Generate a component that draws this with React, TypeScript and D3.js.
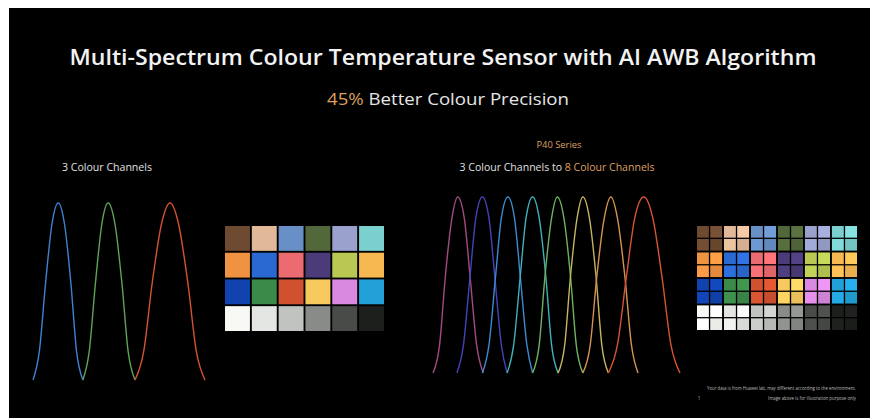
import React from 'react'
import * as d3 from 'd3'

// response levels shared by every sampled curve (start, rising, peak, falling, end)
const response = [0, 0.16, 0.55, 0.88, 1, 0.88, 0.55, 0.16, 0]

// wavelengths (nm) for each channel
const rgbChannels = [
  { name: 'B', color: '#3f82cf', wl: [400, 411, 422, 433, 444, 455, 466, 476, 487] },
  { name: 'G', color: '#5ea356', wl: [487, 498, 509, 520, 531, 543, 555, 566, 578] },
  { name: 'R', color: '#d4532f', wl: [578, 593, 608, 624, 639, 654, 670, 685, 700] },
]

const multiChannels = [
  { name: 'C1', color: '#a34a82', wl: [400, 408, 415, 423, 430, 438, 445, 453, 461] },
  { name: 'C2', color: '#4642b6', wl: [429, 437, 445, 452, 460, 468, 475, 483, 490] },
  { name: 'C3', color: '#3b8ad2', wl: [460, 468, 476, 483, 491, 499, 506, 514, 521] },
  { name: 'C4', color: '#3fb1ba', wl: [490, 498, 506, 513, 521, 529, 537, 544, 552] },
  { name: 'C5', color: '#6db262', wl: [521, 529, 536, 544, 551, 559, 567, 574, 582] },
  { name: 'C6', color: '#c4b463', wl: [552, 560, 567, 575, 582, 590, 598, 605, 613] },
  { name: 'C7', color: '#d59352', wl: [582, 591, 599, 608, 616, 624, 633, 641, 649] },
  { name: 'C8', color: '#d75531', wl: [613, 624, 635, 645, 656, 667, 678, 689, 700] },
]

// colour checker patches, row by row
const checkerRows = [
  ['#6e4a31', '#e1b998', '#6890c6', '#52683a', '#9aa1cc', '#79d0cf'],
  ['#ef9241', '#2b69d2', '#ec6b70', '#4b3b79', '#b8c852', '#f7b852'],
  ['#1142ae', '#3b8a49', '#d1512f', '#f8c95e', '#d989e0', '#22a1d8'],
  ['#f8f8f4', '#e4e6e4', '#c1c3c1', '#898b89', '#494b49', '#1d1f1d'],
]
// per-patch 2x2 sub-sample brightness shifts for the 8-channel checker (tl, tr, bl, br)
const subShift = [0, 0.25, 0.15, -0.15]

const W = 870
const H = 418

const Spectrum = ({ channels, x0, x1, yTop, yBottom }) => {
  const x = d3.scaleLinear().domain([400, 700]).range([x0, x1])
  const y = d3.scaleLinear().domain([0, 1]).range([yBottom, yTop])
  const line = d3
    .line()
    .x((d) => x(d[0]))
    .y((d) => y(d[1]))
    .curve(d3.curveMonotoneX)
  return (
    <g>
      {channels.map((c) => (
        <path
          key={c.name}
          d={line(c.wl.map((w, i) => [w, response[i]]))}
          fill="none"
          stroke={c.color}
          strokeWidth={1.4}
        />
      ))}
    </g>
  )
}

const Checker = ({ x0, x1, y0, y1, split }) => {
  const cols = d3.scaleBand().domain(d3.range(6)).range([x0, x1]).paddingInner(0.07)
  const rows = d3.scaleBand().domain(d3.range(4)).range([y0, y1]).paddingInner(0.07)
  const sub = d3.scaleBand().domain([0, 1]).range([0, cols.bandwidth()]).paddingInner(0.1)
  const subY = d3.scaleBand().domain([0, 1]).range([0, rows.bandwidth()]).paddingInner(0.1)
  return (
    <g>
      {checkerRows.map((row, r) =>
        row.map((col, c) =>
          split ? (
            <g key={`${r}-${c}`} transform={`translate(${cols(c)},${rows(r)})`}>
              {subShift.map((k, i) => (
                <rect
                  key={i}
                  x={sub(i % 2)}
                  y={subY(Math.floor(i / 2))}
                  width={sub.bandwidth()}
                  height={subY.bandwidth()}
                  fill={k >= 0 ? d3.color(col).brighter(k).formatHex() : d3.color(col).darker(-k).formatHex()}
                />
              ))}
            </g>
          ) : (
            <rect
              key={`${r}-${c}`}
              x={cols(c)}
              y={rows(r)}
              width={cols.bandwidth()}
              height={rows.bandwidth()}
              fill={col}
            />
          )
        )
      )}
    </g>
  )
}

export default function App() {
  const font = "'Open Sans', 'Noto Sans', sans-serif"
  const gold = '#dda062'
  return (
    <div>
      <style>{'html,body{margin:0;padding:0;overflow:hidden;background:#fff}'}</style>
      <svg width={W} height={H} style={{ display: 'block' }} fontFamily={font}>
        <rect x={9} y={8} width={W - 9} height={H - 8} fill="#000" />

        <text x={443} y={65} textAnchor="middle" fill="#f2f2f2" fontSize={22} fontWeight={600} textLength={747} lengthAdjust="spacingAndGlyphs">
          Multi-Spectrum Colour Temperature Sensor with AI AWB Algorithm
        </text>
        <text x={448} y={105} textAnchor="middle" fill="#e6e6e6" fontSize={17} textLength={242} lengthAdjust="spacingAndGlyphs">
          <tspan fill={gold}>45%</tspan> Better Colour Precision
        </text>

        <text x={107} y={171} textAnchor="middle" fill="#e0e0e0" fontSize={10} textLength={90} lengthAdjust="spacingAndGlyphs">
          3 Colour Channels
        </text>
        <text x={559} y={148} textAnchor="middle" fill={gold} fontSize={9} textLength={45} lengthAdjust="spacingAndGlyphs">
          P40 Series
        </text>
        <text x={557} y={171} textAnchor="middle" fill="#e0e0e0" fontSize={10} textLength={195} lengthAdjust="spacingAndGlyphs">
          3 Colour Channels to <tspan fill={gold}>8 Colour Channels</tspan>
        </text>

        <Spectrum channels={rgbChannels} x0={33} x1={205} yTop={203} yBottom={380} />
        <Spectrum channels={multiChannels} x0={433} x1={680} yTop={197} yBottom={373} />

        <Checker x0={225} x1={384} y0={226} y1={331} split={false} />
        <Checker x0={697} x1={857} y0={226} y1={330} split={true} />

        <text x={856} y={390} textAnchor="end" fill="#bdbdbd" fontSize={4.5} textLength={149} lengthAdjust="spacingAndGlyphs">
          Your data is from Huawei lab, may different according to the environment.
        </text>
        <text x={856} y={400} textAnchor="end" fill="#bdbdbd" fontSize={4.5} textLength={88} lengthAdjust="spacingAndGlyphs">
          Image above is for illustration purpose only
        </text>
        <text x={699} y={400} textAnchor="middle" fill="#bdbdbd" fontSize={4.5}>
          1
        </text>
      </svg>
    </div>
  )
}
